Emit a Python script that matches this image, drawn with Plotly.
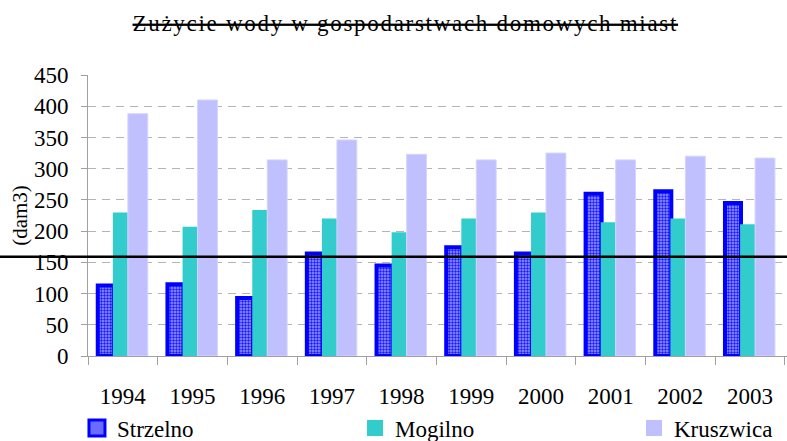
import plotly.graph_objects as go

years = ["1994", "1995", "1996", "1997", "1998", "1999", "2000", "2001", "2002", "2003"]
strzelno = [113, 115, 93, 164, 145, 174, 164, 260, 264, 245]
mogilno = [230, 207, 234, 220, 198, 220, 230, 214, 220, 211]
kruszwica = [388, 410, 314, 346, 323, 314, 325, 314, 320, 317]
series_names = ["Strzelno", "Mogilno", "Kruszwica"]
y_ticks = [0, 50, 100, 150, 200, 250, 300, 350, 400, 450]
YMAX = 450
REF_LINE = 159

FONT = "Liberation Serif"

fig = go.Figure()
fig.add_trace(go.Bar(
    x=years, y=strzelno, name=series_names[0], showlegend=False,
    width=0.23, offset=-0.36,
    marker=dict(color="#8080ff", line=dict(color="#0000ff", width=4),
                pattern=dict(shape=".", fgcolor="#1a1aff", bgcolor="#9a9aff", size=3, solidity=0.5)),
))
fig.add_trace(go.Bar(
    x=years, y=mogilno, name=series_names[1], showlegend=False,
    width=0.215, offset=-0.143,
    marker=dict(color="#33cccc", line=dict(color="#33cccc", width=0)),
))
fig.add_trace(go.Bar(
    x=years, y=kruszwica, name=series_names[2], showlegend=False,
    width=0.285, offset=0.072,
    marker=dict(color="#c0c0ff", line=dict(color="#d4d4ff", width=1)),
))

# legend keys (larger square swatches, as in the original legend)
legend_styles = [
    ("legend", dict(color="#6b6bff", line=dict(color="#0000ff", width=3))),
    ("legend2", dict(color="#33cccc", line=dict(color="#33cccc", width=0))),
    ("legend3", dict(color="#c0c0ff", line=dict(color="#c0c0ff", width=0))),
]
for name, (leg, mk) in zip(series_names, legend_styles):
    fig.add_trace(go.Scatter(
        x=[None], y=[None], mode="markers", name=name, legend=leg, showlegend=True,
        marker=dict(symbol="square", size=21, **mk), hoverinfo="skip",
    ))

fig.add_shape(type="line", xref="paper", yref="paper",
              x0=-0.14, x1=1.02, y0=REF_LINE / YMAX, y1=REF_LINE / YMAX,
              line=dict(color="black", width=2.5))


def legend_at(x):
    return dict(orientation="h", xref="container", yref="container",
                x=x, xanchor="left", yanchor="middle", y=0.0295,
                itemsizing="trace",
                font=dict(family=FONT, size=23, color="black"),
                bgcolor="rgba(0,0,0,0)", borderwidth=0)


fig.update_layout(
    template="none",
    width=787, height=441,
    margin=dict(l=88, r=0, t=75, b=85, autoexpand=False),
    paper_bgcolor="white", plot_bgcolor="white",
    font=dict(family=FONT, size=23, color="black"),
    title=dict(text='<s><span style="letter-spacing:1.7px">Zużycie wody w gospodarstwach domowych miast</span></s>',
               x=0.515, xanchor="center", y=0.947, yanchor="middle",
               font=dict(family=FONT, size=23, color="black")),
    barmode="group",
    showlegend=True,
    legend=legend_at(0.0978),
    legend2=legend_at(0.4511),
    legend3=legend_at(0.8056),
    xaxis=dict(type="category", categoryorder="array", categoryarray=years,
               range=[-0.5, 9.53], automargin=False,
               showline=True, linecolor="#a0a0a0", linewidth=1,
               ticks="outside", tickson="boundaries", ticklen=8, tickcolor="#a0a0a0",
               ticklabelstandoff=19,
               showgrid=False, zeroline=False,
               tickfont=dict(family=FONT, size=23, color="black")),
    yaxis=dict(range=[0, YMAX], tickvals=y_ticks, automargin=False,
               showline=True, linecolor="#a0a0a0", linewidth=1,
               ticks="outside", ticklen=6, tickcolor="#a0a0a0",
               ticklabelstandoff=8,
               showgrid=True, gridcolor="#b4b4b4", griddash="8px,6px", gridwidth=1,
               zeroline=False,
               tickfont=dict(family=FONT, size=23, color="black"),
               title=dict(text="(dam3)", standoff=0, font=dict(family=FONT, size=21, color="black"))),
)

fig.write_html("out.html", config={"displayModeBar": False},
               post_script="document.body.style.margin='0';")
